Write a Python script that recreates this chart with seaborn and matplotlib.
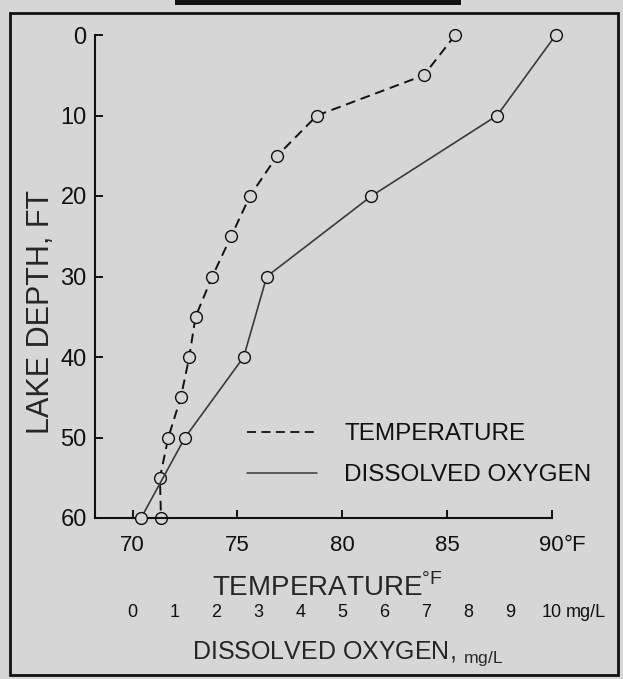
"""Lake depth profile: temperature and dissolved oxygen"""

import matplotlib
matplotlib.use("Agg")
import matplotlib.font_manager as fm
import matplotlib.pyplot as plt
import pandas as pd
import seaborn as sns
from matplotlib.lines import Line2D
from matplotlib.patches import Rectangle

# data
TEMP_DEPTH_FT = [0, 5, 10, 15, 20, 25, 30, 35, 40, 45, 50, 55, 60]
TEMP_F = [85.4, 83.9, 78.8, 76.9, 75.6, 74.7, 73.8, 73.0, 72.7, 72.3, 71.7, 71.3, 71.35]
DO_DEPTH_FT = [0, 10, 20, 30, 40, 50, 60]
DO_MGL = [10.1, 8.7, 5.7, 3.2, 2.65, 1.25, 0.2]

TEMP_TICKS = [70, 75, 80, 85, 90]
DO_TICKS = list(range(0, 11))
DEPTH_TICKS = [0, 10, 20, 30, 40, 50, 60]
TEMP_LIM = (68.2, 90.0)
DEPTH_LIM = (60, 0)
LEGEND_LABELS = ["TEMPERATURE", "DISSOLVED OXYGEN"]

BG = "#d6d6d6"
INK = "#111111"

sns.set_theme(style="ticks")
_names = {f.name for f in fm.fontManager.ttflist}
FONT = "Liberation Sans" if "Liberation Sans" in _names else "DejaVu Sans"
plt.rcParams["font.family"] = [FONT, "DejaVu Sans"]
plt.rcParams["mathtext.fontset"] = "custom"
plt.rcParams["mathtext.rm"] = FONT
plt.rcParams["text.color"] = INK
plt.rcParams["xtick.color"] = INK
plt.rcParams["ytick.color"] = INK
plt.rcParams["xtick.labelcolor"] = INK
plt.rcParams["ytick.labelcolor"] = INK

fig = plt.figure(figsize=(6.23, 6.79), dpi=100, facecolor=BG)
ax = fig.add_axes([95 / 623, 1 - 518 / 679, 456.6 / 623, 483 / 679])
ax.set_facecolor(BG)

temp_df = pd.DataFrame({"temp": TEMP_F, "depth": TEMP_DEPTH_FT})
do_df = pd.DataFrame({"do": DO_MGL, "depth": DO_DEPTH_FT})

sns.lineplot(data=temp_df, x="temp", y="depth", orient="y", ax=ax,
             color=INK, lw=1.4, linestyle=(0, (5, 3)),
             marker="o", markersize=8.5, markerfacecolor=BG,
             markeredgecolor=INK, markeredgewidth=1.0, clip_on=False)
ax.set_xlim(*TEMP_LIM)
ax.set_ylim(*DEPTH_LIM)

# dissolved oxygen on its own scale: 0 mg/L at 70 F, 10 mg/L at 90 F
ax_do = ax.twiny()
sns.lineplot(data=do_df, x="do", y="depth", orient="y", ax=ax_do,
             color="#3a3a3a", lw=1.2,
             marker="o", markersize=8.5, markerfacecolor=BG,
             markeredgecolor=INK, markeredgewidth=1.0, clip_on=False)
ax_do.set_xlim((TEMP_LIM[0] - 70) / 2, (TEMP_LIM[1] - 70) / 2)
ax_do.set_ylim(*DEPTH_LIM)

# main axes styling
for side in ["top", "right"]:
    ax.spines[side].set_visible(False)
for side in ["left", "bottom"]:
    ax.spines[side].set_linewidth(1.5)
    ax.spines[side].set_color(INK)
ax.set_xticks(TEMP_TICKS)
ax.set_yticks(DEPTH_TICKS)
ax.tick_params(axis="both", direction="in", length=6, width=1.4, color=INK)
ax.tick_params(axis="x", pad=12, labelsize=16)
ax.tick_params(axis="y", pad=6, labelsize=17)
ax.set_xlabel(r"TEMPERATURE$^{\mathrm{°F}}$", fontsize=20)
ax.xaxis.set_label_coords(0.508, -0.113)
ax.set_ylabel("LAKE DEPTH, FT", fontsize=22)
ax.yaxis.set_label_coords(-0.085, 0.4265)
ax.annotate("°F", xy=(1, 0), xycoords="axes fraction", xytext=(9, -12),
            textcoords="offset points", ha="left", va="top", fontsize=16)

# oxygen scale drawn as a second row of labels below
for side in ax_do.spines:
    ax_do.spines[side].set_visible(False)
ax_do.xaxis.set_ticks_position("bottom")
ax_do.xaxis.set_label_position("bottom")
ax_do.spines["bottom"].set_position(("outward", 60))
ax_do.set_xticks(DO_TICKS)
ax_do.tick_params(axis="x", length=0, pad=2, labelsize=13)
ax_do.tick_params(axis="y", left=False, right=False, labelright=False)
ax_do.set_ylabel("")
ax_do.set_xlabel(r"DISSOLVED OXYGEN, $_{\mathrm{mg/L}}$", fontsize=18)
ax_do.xaxis.set_label_coords(0.554, -0.252)
ax_do.annotate("mg/L", xy=(DO_TICKS[-1], 0), xycoords=("data", "axes fraction"),
               xytext=(10, -62), textcoords="offset points", ha="left", va="top",
               fontsize=13)

handles = [Line2D([], [], color=INK, lw=1.3, linestyle=(0, (5, 3))),
           Line2D([], [], color="#3a3a3a", lw=1.1)]
ax_do.legend(handles, LEGEND_LABELS, loc="upper left", frameon=False,
             bbox_to_anchor=(247 / 623, 1 - 423 / 679), bbox_transform=fig.transFigure,
             borderpad=0, borderaxespad=0, handlelength=2.9, handletextpad=1.1,
             labelspacing=0.8, fontsize=17.5, labelcolor=INK)

# scan border
fig.add_artist(Rectangle((10 / 623, 1 - 675 / 679), 608 / 623, 662 / 679,
                         transform=fig.transFigure, fill=False, lw=2, color=INK))
fig.add_artist(Rectangle((175 / 623, 1 - 5 / 679), 286 / 623, 5 / 679,
                         transform=fig.transFigure, color=INK, lw=0))

fig.savefig("out.png", dpi=100, facecolor=BG)
plt.close(fig)
